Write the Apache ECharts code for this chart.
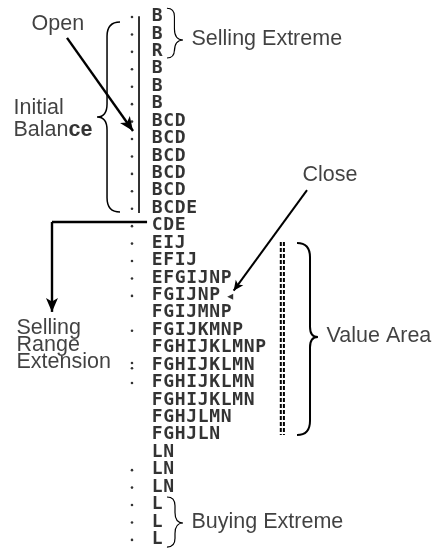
<!DOCTYPE html>
<html><head><meta charset="utf-8">
<script src="https://cdn.jsdelivr.net/npm/echarts@6/dist/echarts.min.js"></script>
<style>html,body{margin:0;padding:0;background:#fff}#c{width:440px;height:549px}</style>
</head><body><div id="c"></div>
<script>
// Market profile rows (top = highest price), letters = TPO periods
const rowLetters = ["B","B","R","B","B","B","BCD","BCD","BCD","BCD","BCD","BCDE","CDE","EIJ","EFIJ","EFGIJNP","FGIJNP","FGIJMNP","FGIJKMNP","FGHIJKLMNP","FGHIJKLMN","FGHIJKLMN","FGHIJKLMN","FGHJLMN","FGHJLN","LN","LN","LN","L","L","L"];
// rows having a price tick dot
const tickRows = [0,1,2,3,4,5,6,7,8,9,10,11,12,13,14,15,16,18,21,26,27,28,29,30];
const colonRows = [19.85, 20.15];
const tickCol = -2.24;
// annotation text: [col,row,text]
const annoTexts = [
  [-10.93, 0.46, "Open"],
  [2.98, 1.32, "Selling Extreme"],
  [-12.5, 5.28, "Initial"],
  [12.63, 9.12, "Close"],
  [-12.24, 17.85, "Selling"],
  [-12.24, 18.85, "Range"],
  [-12.24, 19.85, "Extension"],
  [14.72, 18.36, "Value Area"],
  [2.98, 29.03, "Buying Extreme"]
];
const balanceLabel = [-12.5, 6.54];
// braces: [endCol, spineCol, tipCol, topRow, bottomRow, tipRow, lineWidth]
const braces = [
  [-3.28, -4.41, -5.28, 0.29, 11.19, 5.74, 1.5],
  [0.80, 1.45, 2.2, -0.5, 2.35, 1.32, 1.1],
  [12.11, 13.24, 13.93, 12.97, 23.98, 18.36, 2],
  [0.80, 1.5, 2.2, 27.54, 30.41, 29.03, 1.2]
];
const ibLine = [[-1.63, -0.05], [-1.63, 11.25]];
const extLine = [[-0.93, 11.76], [-9.2, 11.76]];
const extArrow = [[-9.2, 11.76], [-9.2, 16.92]];
const openArrow = [[-7.89, 1.2], [-2.15, 6.54]];
const closeArrow = [[12.98, 9.93], [6.6, 15.7]];
const closeMark = [6.3, 16.05];
const valueAreaLines = [[10.7, 12.91, 23.98], [10.97, 12.91, 23.98]];

const letterData = [];
rowLetters.forEach((s, r) => { for (let i = 0; i < s.length; i++) letterData.push({value: [i, r], name: s[i]}); });
const tickData = tickRows.map(r => [tickCol, r]).concat(colonRows.map(r => [tickCol, r]));

const textFont = 'Liberation Sans';
const textSize = 21.5;
const chart = echarts.init(document.getElementById('c'), null, {renderer: 'canvas'});
const series = [
  { type: 'scatter', data: letterData, symbol: 'circle', symbolSize: 1, itemStyle: {color: 'rgba(0,0,0,0)'},
    label: {show: true, position: [0, 0], align: 'center', verticalAlign: 'middle', formatter: '{b}',
      fontFamily: 'DejaVu Sans Mono', fontSize: 18, fontWeight: 'bold', color: '#000'}, silent: true, z: 5 },
  { type: 'scatter', data: tickData, symbol: 'circle', symbolSize: 2.6, itemStyle: {color: '#000'}, silent: true },
  { type: 'scatter', data: annoTexts.map(a => ({value: [a[0], a[1]], name: a[2]})), symbol: 'circle', symbolSize: 1,
    itemStyle: {color: 'rgba(0,0,0,0)'}, silent: true,
    label: {show: true, position: [0, 0], align: 'left', verticalAlign: 'middle', formatter: '{b}',
      fontFamily: textFont, fontSize: textSize, color: '#111'} },
  { type: 'scatter', data: [{value: balanceLabel, name: 'Balance'}], symbol: 'circle', symbolSize: 1,
    itemStyle: {color: 'rgba(0,0,0,0)'}, silent: true,
    label: {show: true, position: [0, 0], align: 'left', verticalAlign: 'middle', formatter: '{n|Balan}{w|ce}',
      rich: {n: {fontFamily: textFont, fontSize: textSize, color: '#111'}, w: {fontFamily: textFont, fontSize: textSize, fontWeight: 'bold', color: '#000'}}} },
  { type: 'scatter', data: [closeMark], symbol: 'triangle', symbolRotate: 90, symbolSize: [6, 6], itemStyle: {color: '#000'}, silent: true },
  { type: 'line', data: ibLine, showSymbol: false, lineStyle: {color: '#000', width: 1.6}, silent: true },
  { type: 'line', data: extLine, showSymbol: false, lineStyle: {color: '#000', width: 2.4}, silent: true },
  { type: 'custom', clip: false, silent: true, data: braces,
    renderItem: function (params, api) {
      const e = api.coord([api.value(0), 0])[0], v = api.coord([api.value(1), 0])[0], t = api.coord([api.value(2), 0])[0];
      const a = api.coord([0, api.value(3)])[1], b = api.coord([0, api.value(4)])[1], m = api.coord([0, api.value(5)])[1];
      const r1 = Math.min(Math.abs(v - e) * 1.1, (m - a) / 2), r2 = Math.min(Math.abs(t - v) * 1.3, (m - a) / 2);
      const d = 'M' + e + ' ' + a + ' Q' + v + ' ' + a + ' ' + v + ' ' + (a + r1) +
        ' L' + v + ' ' + (m - r2) + ' Q' + v + ' ' + m + ' ' + t + ' ' + m +
        ' Q' + v + ' ' + m + ' ' + v + ' ' + (m + r2) + ' L' + v + ' ' + (b - r1) +
        ' Q' + v + ' ' + b + ' ' + e + ' ' + b;
      return {type: 'path', shape: {pathData: d}, style: {fill: 'none', stroke: '#000', lineWidth: api.value(6)}};
    } },
  { type: 'line', data: [], silent: true,
    markLine: { silent: true, animation: false, symbol: ['none', 'arrow'], symbolSize: [9, 14], label: {show: false},
      lineStyle: {color: '#000', width: 2.4, type: 'solid'},
      data: [
        [{coord: openArrow[0]}, {coord: openArrow[1]}],
        [{coord: extArrow[0]}, {coord: extArrow[1]}],
        [{coord: closeArrow[0], lineStyle: {width: 2}}, {coord: closeArrow[1], symbolSize: [7, 10]}]
      ] } }
];
valueAreaLines.forEach(l => series.push({ type: 'line', data: [[l[0], l[1]], [l[0], l[2]]], showSymbol: false,
  lineStyle: {color: '#000', width: 2, type: [4, 2]}, silent: true }));

chart.setOption({
  animation: false,
  backgroundColor: '#fff',
  grid: {left: 2.5, width: 437, top: 8.3, height: 540.3, containLabel: false},
  xAxis: {type: 'value', min: -13.5, max: 24.5, show: false},
  yAxis: {type: 'value', inverse: true, min: -0.5, max: 30.5, show: false},
  series: series
});
</script></body></html>
